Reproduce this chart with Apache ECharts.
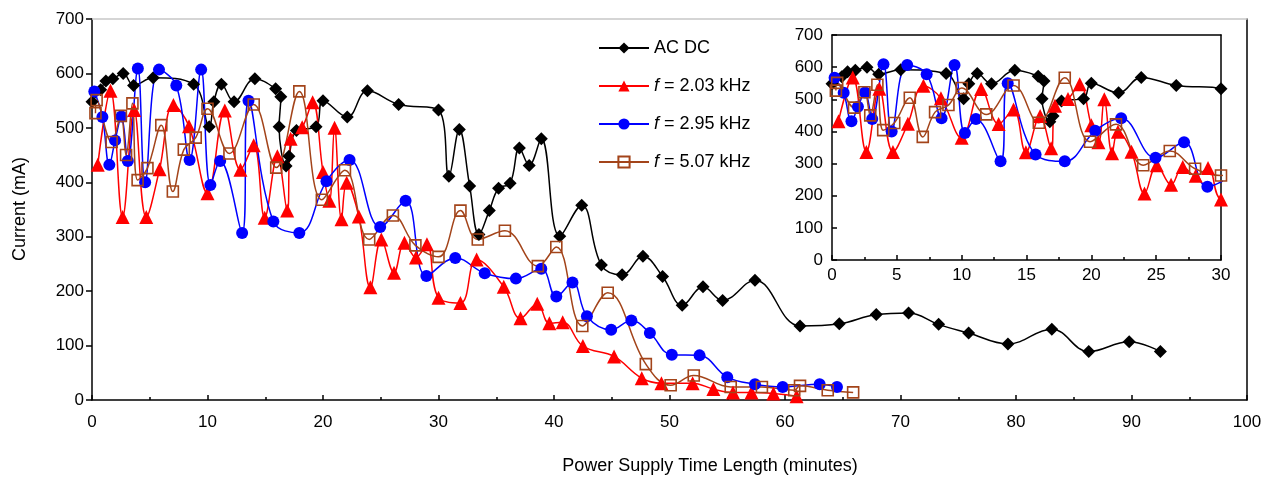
<!DOCTYPE html>
<html>
<head>
<meta charset="utf-8">
<script src="https://cdn.jsdelivr.net/npm/echarts@6/dist/echarts.min.js"></script>
<style>
html,body{margin:0;padding:0;background:#fff;}
#chart{width:1271px;height:477px;}
</style>
</head>
<body>
<div id="chart"></div>
<script>
// ---- data (minutes, mA) ----
const acTime    = [0.0,0.75,1.2,1.8,2.7,3.6,5.3,8.8,10.15,10.55,11.2,12.3,14.1,15.9,16.35,16.2,16.8,17.05,17.7,19.4,20.0,22.1,23.85,26.55,30.0,30.9,31.8,32.7,33.5,34.4,35.2,36.2,37.0,37.85,38.9,40.5,42.4,44.1,45.9,47.7,49.4,51.1,52.9,54.6,57.4,61.3,64.7,67.9,70.7,73.3,75.9,79.3,83.1,86.3,89.8,92.5];
const acCurrent = [548,570,586,590,600,578,592,580,502,548,580,548,590,572,557,502,430,448,495,502,550,520,568,543,533,411,497,393,304,348,389,398,463,431,480,301,358,248,230,264,227,174,208,183,220,136,140,157,160,139,123,103,130,89,107,89];

const f203Time    = [0.5,1.6,2.65,3.65,4.7,5.85,7.05,8.4,10.0,11.5,12.85,14.0,14.95,16.05,16.9,17.2,18.2,19.1,20.0,20.55,21.0,21.6,22.05,23.1,24.1,25.05,26.15,27.05,28.05,29.0,30.0,31.9,33.3,35.65,37.1,38.55,39.6,40.75,42.5,45.2,47.6,49.3,52.0,53.8,55.5,57.1,59.0,61.0];
const f203Current = [432,568,336,533,336,424,542,503,380,532,423,468,335,448,348,480,501,547,419,366,500,332,399,337,207,295,234,289,262,286,188,178,258,208,150,177,141,143,99,80,40,31,31,20,14,14,12,7];

const f295Time    = [0.2,0.9,1.5,2.0,2.55,3.1,3.97,4.6,5.8,7.3,8.45,9.45,10.25,11.1,13.0,13.55,15.7,17.95,20.3,22.3,24.95,27.15,28.95,31.45,34.0,36.7,38.9,40.2,41.6,42.85,44.95,46.7,48.3,50.2,52.6,55.0,57.4,59.8,63.0,64.5];
const f295Current = [567,520,432,477,521,439,609,400,607,578,441,607,395,439,307,550,328,307,402,441,318,366,228,261,233,223,241,190,216,154,129,146,123,83,82,42,29,24,29,24];

const f507Time    = [0.3,0.4,1.7,2.5,2.95,3.5,3.95,4.8,6.0,7.0,7.95,8.98,10.0,11.9,14.0,15.95,17.95,19.9,21.9,24.0,26.05,28.0,30.0,31.9,33.4,35.75,38.6,40.2,42.45,44.65,47.95,50.1,52.1,55.3,58.0,60.8,61.3,63.7,65.9];
const f507Current = [527,551,474,522,450,545,404,426,505,383,460,482,535,453,543,427,567,368,422,295,339,284,263,348,295,311,246,281,136,197,66,27,45,24,24,18,26,18,14];

const seriesNames = ['AC DC','f = 2.03 kHz','f = 2.95 kHz','f = 5.07 kHz'];
const mainXTicks = {min:0, max:100, step:10};
const mainYTicks = {min:0, max:700, step:100};
const insetXTicks = {min:0, max:30, step:5};

const zip = (a,b) => a.map((v,i)=>[v,b[i]]);
const FONT = 'Liberation Sans, Arial, Helvetica, sans-serif';
const BROWN = '#a3441a';

function makeSeries(gi){
  const common = {type:'line', smooth:0.4, xAxisIndex:gi, yAxisIndex:gi, clip:true, showAllSymbol:true};
  return [
    Object.assign({}, common, {name:seriesNames[0], data:zip(acTime,acCurrent), symbol:'diamond', symbolSize:13,
      itemStyle:{color:'#000'}, lineStyle:{color:'#000', width:1.5}}),
    Object.assign({}, common, {name:seriesNames[1], data:zip(f203Time,f203Current), symbol:'triangle', symbolSize:14,
      itemStyle:{color:'#ff0000'}, lineStyle:{color:'#ff0000', width:1.5}}),
    Object.assign({}, common, {name:seriesNames[2], data:zip(f295Time,f295Current), symbol:'circle', symbolSize:12,
      itemStyle:{color:'#0000ff'}, lineStyle:{color:'#0000ff', width:1.5}}),
    Object.assign({}, common, {name:seriesNames[3], data:zip(f507Time,f507Current), symbol:'rect', symbolSize:11,
      itemStyle:{color:'rgba(255,255,255,0)', borderColor:BROWN, borderWidth:1.6}, lineStyle:{color:BROWN, width:1.5}})
  ];
}

const chart = echarts.init(document.getElementById('chart'), null, {renderer:'canvas'});
const labelStyle = {color:'#000', fontSize:17, fontFamily:FONT};

chart.setOption({
  animation:false,
  backgroundColor:'#fff',
  textStyle:{fontFamily:FONT},
  grid:[
    {left:92, top:19, width:1155, height:381, containLabel:false},
    {left:832, top:35, width:389, height:225, containLabel:false, show:true, backgroundColor:'#fff', borderWidth:0}
  ],
  legend:{
    orient:'vertical', left:593, top:34, itemWidth:50, itemHeight:14, itemGap:20,
    data:seriesNames,
    formatter:function(n){ return n.indexOf('f =')===0 ? '{i|f}' + n.slice(1) : n; },
    textStyle:{color:'#000', fontSize:18, fontFamily:FONT,
      rich:{i:{fontStyle:'italic', fontSize:18, fontFamily:FONT, color:'#000'}}}
  },
  xAxis:[
    {gridIndex:0, type:'value', min:mainXTicks.min, max:mainXTicks.max, interval:mainXTicks.step,
      axisLine:{lineStyle:{color:'#000', width:1.5}}, axisTick:{inside:true, length:5, lineStyle:{color:'#000', width:1.5}},
      minorTick:{show:true, splitNumber:2, length:3, lineStyle:{color:'#000', width:1.5}},
      splitLine:{show:false}, axisLabel:Object.assign({margin:14}, labelStyle)},
    {gridIndex:1, type:'value', min:insetXTicks.min, max:insetXTicks.max, interval:insetXTicks.step,
      axisLine:{lineStyle:{color:'#000', width:1.5}}, axisTick:{inside:true, length:5, lineStyle:{color:'#000', width:1.5}},
      minorTick:{show:true, splitNumber:2, length:3, lineStyle:{color:'#000', width:1.5}},
      splitLine:{show:false}, axisLabel:Object.assign({margin:7}, labelStyle)},
    {gridIndex:0, type:'value', position:'top', min:0, max:1, axisLine:{onZero:false, lineStyle:{color:'#c8c8c8', width:1.5}},
      axisTick:{show:false}, axisLabel:{show:false}, splitLine:{show:false}},
    {gridIndex:1, type:'value', position:'top', min:0, max:1, axisLine:{onZero:false, lineStyle:{color:'#000', width:1.5}},
      axisTick:{show:false}, axisLabel:{show:false}, splitLine:{show:false}}
  ],
  yAxis:[
    {gridIndex:0, type:'value', min:mainYTicks.min, max:mainYTicks.max, interval:mainYTicks.step,
      axisLine:{show:true, lineStyle:{color:'#000', width:1.5}}, axisTick:{show:true, inside:false, length:6, lineStyle:{color:'#000', width:1.5}},
      splitLine:{show:false}, axisLabel:Object.assign({margin:8}, labelStyle)},
    {gridIndex:1, type:'value', min:mainYTicks.min, max:mainYTicks.max, interval:mainYTicks.step,
      axisLine:{show:true, lineStyle:{color:'#000', width:1.5}}, axisTick:{show:true, inside:true, length:5, lineStyle:{color:'#000', width:1.5}},
      splitLine:{show:false}, axisLabel:Object.assign({margin:9}, labelStyle)},
    {gridIndex:0, type:'value', position:'right', min:0, max:1, axisLine:{show:true, onZero:false, lineStyle:{color:'#000', width:1.5}},
      axisTick:{show:false}, axisLabel:{show:false}, splitLine:{show:false}},
    {gridIndex:1, type:'value', position:'right', min:0, max:1, axisLine:{show:true, onZero:false, lineStyle:{color:'#000', width:1.5}},
      axisTick:{show:false}, axisLabel:{show:false}, splitLine:{show:false}}
  ],
  graphic:[
    {type:'text', x:20, y:209, rotation:Math.PI/2,
      style:{text:'Current (mA)', fill:'#000', font:'18px ' + FONT, textAlign:'center', textVerticalAlign:'middle'}},
    {type:'text', x:710, y:466,
      style:{text:'Power Supply Time Length (minutes)', fill:'#000', font:'18px ' + FONT, textAlign:'center', textVerticalAlign:'middle'}}
  ],
  series: makeSeries(0).concat(makeSeries(1))
});
</script>
</body>
</html>
